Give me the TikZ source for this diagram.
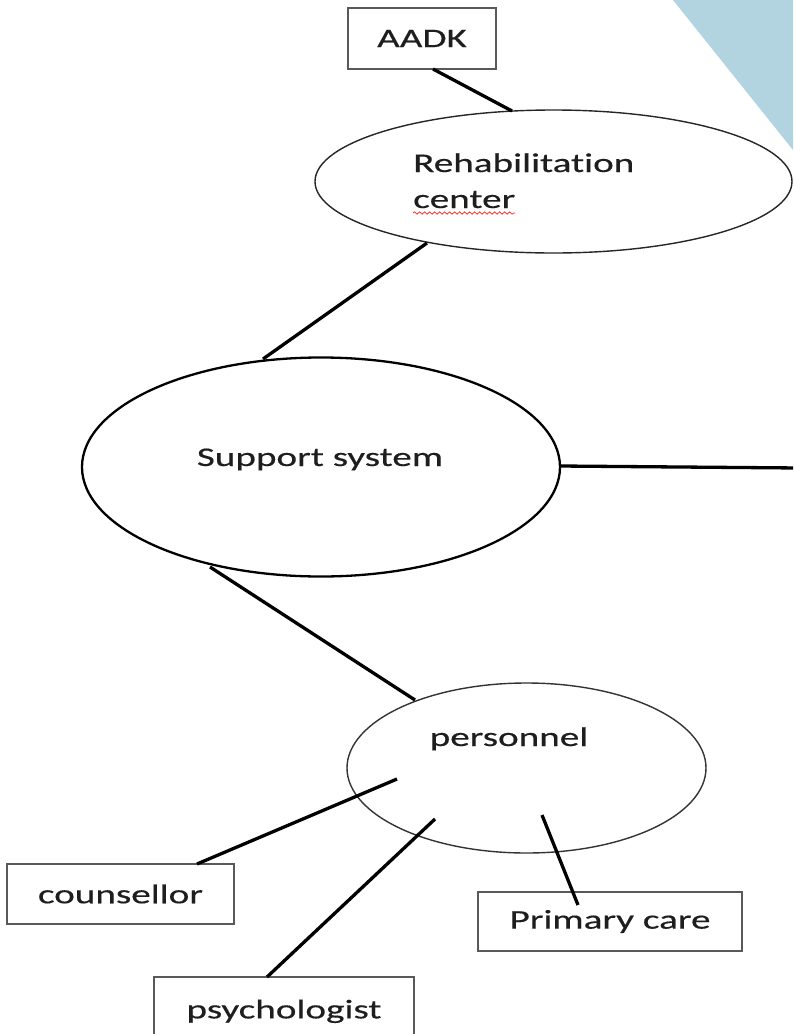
\documentclass[tikz,border=0pt]{standalone}
\usepackage{fontspec}
\setmainfont{Carlito}[FakeStretch=1.45, FakeBold=0.4, Ligatures=NoCommon]
\usetikzlibrary{shapes.geometric,decorations.pathmorphing}
\definecolor{paleblue}{HTML}{B2D4E0}
\definecolor{ink}{HTML}{1E1E1E}

\begin{document}
\begin{tikzpicture}[x = 1pt, y = -1pt,
                      box/.style = {rectangle, draw = black!65, line width = 1.4pt, fill = white,
                                    minimum width = #1, inner sep = 0pt, text = ink,
                                    font = \fontsize{27}{32}\selectfont},
                      oval/.style = {ellipse, draw, fill = white, inner sep = 0pt},
                      txt/.style = {inner sep = 0pt, text = ink, font = \fontsize{27}{32}\selectfont},
                      link/.style = {line width = 3.3pt}]
    \useasboundingbox (0, 0) rectangle (793, 1034);
    \clip (0, 0) rectangle (793, 1034);

    % corner
    \fill [paleblue] (673, 0) -- (793, 0) -- (793, 150) -- cycle;

    \node [box = 148pt, minimum height = 61pt] (aadk) at (422, 38.5){AADK};
    \node [oval, draw = black!85, line width = 1.4pt, minimum width = 477pt, minimum height = 143pt] (rehab) at (553.5, 181.5){};
    \node [txt, anchor = base west] (rehab-l1) at (413, 172){Rehabilitation};
    \node [txt, anchor = base west] (rehab-l2) at (413, 208){center};
    \node [oval, line width = 2.3pt, minimum width = 478pt, minimum height = 219pt] (support) at (321, 467){};
    \node [txt, anchor = base] (support-l) at (320, 466){Support system};
    \node [oval, draw = black!80, line width = 1.4pt, minimum width = 359pt, minimum height = 170pt] (pers) at (526.5, 768){};
    \node [txt, anchor = base] (pers-l) at (509, 746){personnel};
    \node [box = 227pt, minimum height = 60pt] (couns) at (120.5, 894){counsellor};
    \node [box = 264pt, minimum height = 59pt] (prim) at (610, 921.5){Primary care};
    \node [box = 260pt, minimum height = 80pt, text depth = 0pt] (psych) at (284, 1017){\raisebox{16pt}{psychologist}};

    \draw [red!80, line width = 0.8pt, decorate, decoration = {snake, amplitude = 1.2pt, segment length = 5pt}]
          ([yshift = -5pt]rehab-l2.base west) -- ([yshift = -5pt]rehab-l2.base east);

    \coordinate (aadk-a) at (433, 69);
    \coordinate (rehab-a) at (512, 111);
    \coordinate (rehab-b) at (427, 243);
    \coordinate (support-a) at (263, 359);
    \coordinate (support-b) at (560, 466);
    \coordinate (edge) at (800, 468);
    \coordinate (support-c) at (210, 567);
    \coordinate (pers-a) at (415, 700);
    \coordinate (pers-b) at (397, 779);
    \coordinate (pers-c) at (435, 819);
    \coordinate (pers-d) at (542, 815);
    \coordinate (couns-a) at (197, 864);
    \coordinate (psych-a) at (267, 977);
    \coordinate (prim-a) at (578, 905);

    \draw [link] (aadk-a) -- (rehab-a);
    \draw [link] (rehab-b) -- (support-a);
    \draw [link] (support-b) -- (edge);
    \draw [link] (support-c) -- (pers-a);
    \draw [link] (pers-b) -- (couns-a);
    \draw [link] (pers-c) -- (psych-a);
    \draw [link] (pers-d) -- (prim-a);
    \end{tikzpicture}
\end{document}
